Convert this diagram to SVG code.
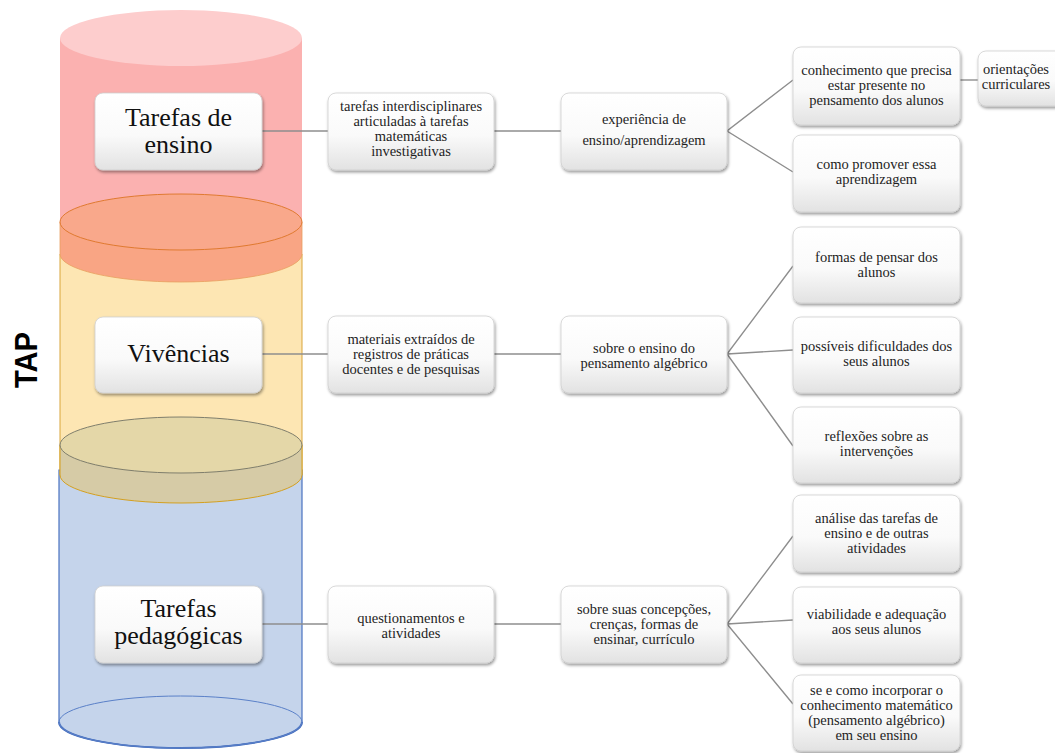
<svg xmlns="http://www.w3.org/2000/svg" width="1055" height="753" viewBox="0 0 1055 753">
<style>
.box{fill:url(#bg);stroke:#cfcfcf;stroke-width:0.8;filter:url(#sh)}
.t{font-family:"Liberation Serif","Times New Roman",serif;font-size:14.5px;fill:#1e1e1e;text-anchor:middle}
.big{font-family:"Liberation Serif","Times New Roman",serif;font-size:26px;fill:#111;text-anchor:middle}
.c{stroke:#8e8e8e;stroke-width:1.4;fill:none}
</style>
<defs>
<linearGradient id="bg" x1="0" y1="0" x2="0" y2="1">
<stop offset="0" stop-color="#ffffff"/><stop offset="0.55" stop-color="#fafafa"/><stop offset="1" stop-color="#e2e2e2"/>
</linearGradient>
<filter id="sh" x="-10%" y="-10%" width="125%" height="130%">
<feDropShadow dx="1" dy="2" stdDeviation="1.6" flood-color="#000" flood-opacity="0.4"/>
</filter>
</defs>
<rect width="1055" height="753" fill="#fff"/>

<g id="cylinders">
<rect x="60" y="38" width="242" height="215" fill="#fbb1b0"/>
<ellipse cx="181" cy="38" rx="121" ry="28" fill="#fdcdcd"/>
<path d="M59,470 L59,722 A121.5,26 0 0 0 302,722 L302,470 Z" fill="#c5d4eb" stroke="#4a72c0" stroke-width="1.2"/>
<path d="M59,722 A121.5,26 0 0 0 302,722" fill="none" stroke="#4a72c0" stroke-width="2"/>
<ellipse cx="180.5" cy="722" rx="121.5" ry="26" fill="none" stroke="#5a80c8" stroke-width="1"/>
<path d="M60,254 L60,475 L302,475 L302,254 Z" fill="#fde6b3" stroke="#d9a53a" stroke-width="1"/>
<path d="M60,222 L60,254 A121,28 0 0 0 302,254 L302,222 Z" fill="#f9a584" stroke="#e8a060" stroke-width="0.8"/>
<ellipse cx="181" cy="222" rx="121" ry="28" fill="#f9a88b" stroke="#e07a30" stroke-width="1"/>
<path d="M60,445 L60,475 A121,28 0 0 0 302,475 L302,445 Z" fill="#d6cba6" stroke="#d4a020" stroke-width="1"/>
<ellipse cx="181" cy="445" rx="121" ry="28" fill="#e4d7a8" stroke="#7f7e6c" stroke-width="1"/>
</g>

<text x="37" y="360" transform="rotate(-90 37 360)" text-anchor="middle" font-family="'Liberation Sans',Arial,sans-serif" font-weight="bold" font-size="31" fill="#000" textLength="56" lengthAdjust="spacingAndGlyphs">TAP</text>

<g id="connectors">
<line class="c" x1="262" y1="131" x2="328" y2="131"/>
<line class="c" x1="494" y1="131" x2="561" y2="131"/>
<polyline class="c" points="793,80 727,131 793,172"/>
<line class="c" x1="960" y1="80" x2="978" y2="80"/>
<line class="c" x1="262" y1="354" x2="328" y2="354"/>
<line class="c" x1="494" y1="354" x2="561" y2="354"/>
<polyline class="c" points="793,266 727,354 793,446"/>
<line class="c" x1="727" y1="354" x2="793" y2="350"/>
<line class="c" x1="262" y1="624" x2="328" y2="624"/>
<line class="c" x1="494" y1="624" x2="561" y2="624"/>
<polyline class="c" points="793,536 727,624 793,704"/>
<line class="c" x1="727" y1="624" x2="793" y2="620"/>
</g>

<g id="n-tarefas-ensino"><rect class="box" x="95" y="93" width="167" height="77" rx="8"/>
<text class="big" x="178.5" y="126">Tarefas de</text><text class="big" x="178.5" y="153">ensino</text></g>
<g id="n-vivencias"><rect class="box" x="95" y="317" width="167" height="76" rx="8"/>
<text class="big" x="178.5" y="362">Vivências</text></g>
<g id="n-tarefas-ped"><rect class="box" x="95" y="586" width="167" height="77" rx="8"/>
<text class="big" x="178.5" y="617">Tarefas</text><text class="big" x="178.5" y="644">pedagógicas</text></g>

<g id="n-interdisc"><rect class="box" x="328" y="93" width="166" height="77" rx="8"/>
<text class="t" x="411" y="111">tarefas interdisciplinares</text><text class="t" x="411" y="126">articuladas à tarefas</text><text class="t" x="411" y="141">matemáticas</text><text class="t" x="411" y="156">investigativas</text></g>
<g id="n-experiencia"><rect class="box" x="561" y="93" width="166" height="77" rx="8"/>
<text class="t" x="644" y="124">experiência de</text><text class="t" x="644" y="145">ensino/aprendizagem</text></g>
<g id="n-conhecimento"><rect class="box" x="793" y="47" width="167" height="78" rx="8"/>
<text class="t" x="876.5" y="75">conhecimento que precisa</text><text class="t" x="876.5" y="90">estar presente no</text><text class="t" x="876.5" y="105">pensamento dos alunos</text></g>
<g id="n-orientacoes"><rect class="box" x="978" y="51" width="92" height="55" rx="8"/>
<text class="t" x="1016" y="74" font-size="14">orientações</text><text class="t" x="1016" y="89" font-size="14">curriculares</text></g>
<g id="n-promover"><rect class="box" x="793" y="135" width="167" height="77" rx="8"/>
<text class="t" x="876.5" y="169">como promover essa</text><text class="t" x="876.5" y="184">aprendizagem</text></g>

<g id="n-materiais"><rect class="box" x="328" y="316" width="166" height="77" rx="8"/>
<text class="t" x="411" y="343.5">materiais extraídos de</text><text class="t" x="411" y="358.5">registros de práticas</text><text class="t" x="411" y="373.5">docentes e de pesquisas</text></g>
<g id="n-sobre-ensino"><rect class="box" x="561" y="316" width="166" height="77" rx="8"/>
<text class="t" x="644" y="352.5">sobre o ensino do</text><text class="t" x="644" y="367.5">pensamento algébrico</text></g>
<g id="n-formas"><rect class="box" x="793" y="227" width="167" height="76" rx="8"/>
<text class="t" x="876.5" y="261.5">formas de pensar dos</text><text class="t" x="876.5" y="276.5">alunos</text></g>
<g id="n-dificuldades"><rect class="box" x="793" y="317" width="167" height="76" rx="8"/>
<text class="t" x="876.5" y="351">possíveis dificuldades dos</text><text class="t" x="876.5" y="366">seus alunos</text></g>
<g id="n-reflexoes"><rect class="box" x="793" y="407" width="167" height="76" rx="8"/>
<text class="t" x="876.5" y="441">reflexões sobre as</text><text class="t" x="876.5" y="456">intervenções</text></g>

<g id="n-questionamentos"><rect class="box" x="328" y="586" width="166" height="77" rx="8"/>
<text class="t" x="411" y="622.5">questionamentos e</text><text class="t" x="411" y="637.5">atividades</text></g>
<g id="n-concepcoes"><rect class="box" x="561" y="586" width="166" height="77" rx="8"/>
<text class="t" x="644" y="613.5">sobre suas concepções,</text><text class="t" x="644" y="628.5">crenças, formas de</text><text class="t" x="644" y="643.5">ensinar, currículo</text></g>
<g id="n-analise"><rect class="box" x="793" y="495" width="167" height="77" rx="8"/>
<text class="t" x="876.5" y="523">análise das tarefas de</text><text class="t" x="876.5" y="538">ensino e de outras</text><text class="t" x="876.5" y="553">atividades</text></g>
<g id="n-viabilidade"><rect class="box" x="793" y="587" width="167" height="76" rx="8"/>
<text class="t" x="876.5" y="619">viabilidade e adequação</text><text class="t" x="876.5" y="634">aos seus alunos</text></g>
<g id="n-incorporar"><rect class="box" x="793" y="675" width="167" height="76" rx="8"/>
<text class="t" x="876.5" y="694.5">se e como incorporar o</text><text class="t" x="876.5" y="709.5">conhecimento matemático</text><text class="t" x="876.5" y="724.5">(pensamento algébrico)</text><text class="t" x="876.5" y="739.5">em seu ensino</text></g>
</svg>
